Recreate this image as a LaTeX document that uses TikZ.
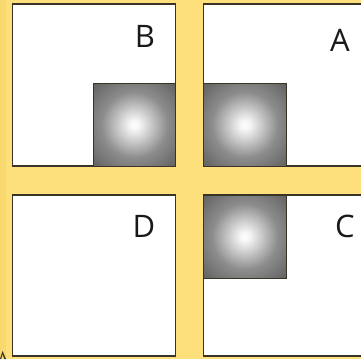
\documentclass[tikz,border=0pt]{standalone}
\usepackage{fontspec}
\setmainfont{Open Sans}
\definecolor{bgyellow}{HTML}{FDE07C}
\definecolor{edgeyellow}{HTML}{F9D86E}
\definecolor{boxline}{HTML}{3A3428}
\pgfdeclareradialshading{glow}{\pgfpoint{0bp}{0bp}}{%
  color(0bp)=(white);
  color(3bp)=(white!96!black);
  color(20bp)=(black!45);
  color(50bp)=(black!78);
  color(72bp)=(black!88)}
\tikzset{
  panel/.style={draw=boxline, line width=1.6pt, fill=white},
  glowsq/.style={draw=boxline, line width=1pt, shading=glow},
  letter/.style={font=\fontsize{31}{31}\selectfont, text=black!90, inner sep=0pt}
}
\begin{document}
\begin{tikzpicture}[x=1pt,y=-1pt]
\useasboundingbox (0,0) rectangle (361,359);
\clip (0,0) rectangle (361,359);
\fill[bgyellow] (0,0) rectangle (361,359);
\fill[edgeyellow] (0,0) rectangle (6,359);
% panels
\draw[panel] (12.5,4) rectangle (175.5,166);
\draw[panel] (203.5,4) rectangle (372,166);
\draw[panel] (12.5,195) rectangle (175.5,356);
\draw[panel] (203.5,195) rectangle (372,356);
% shaded squares
\draw[glowsq] (93,83.5) rectangle (175.5,166);
\draw[glowsq] (203.5,83.5) rectangle (286,166);
\draw[glowsq] (203.5,195) rectangle (286,278);
% labels
\node[letter] (lb) at (145,36.5) {B};
\node[letter] (la) at (340,40.5) {A};
\node[letter] (ld) at (144,226) {D};
\node[letter] (lc) at (345,226) {C};
% fragment at bottom left
\fill[boxline] (0,359) -- (2.5,351) -- (6,359) -- (4.3,359) -- (2.5,354) -- (1.2,359) -- cycle;
\end{tikzpicture}
\end{document}
